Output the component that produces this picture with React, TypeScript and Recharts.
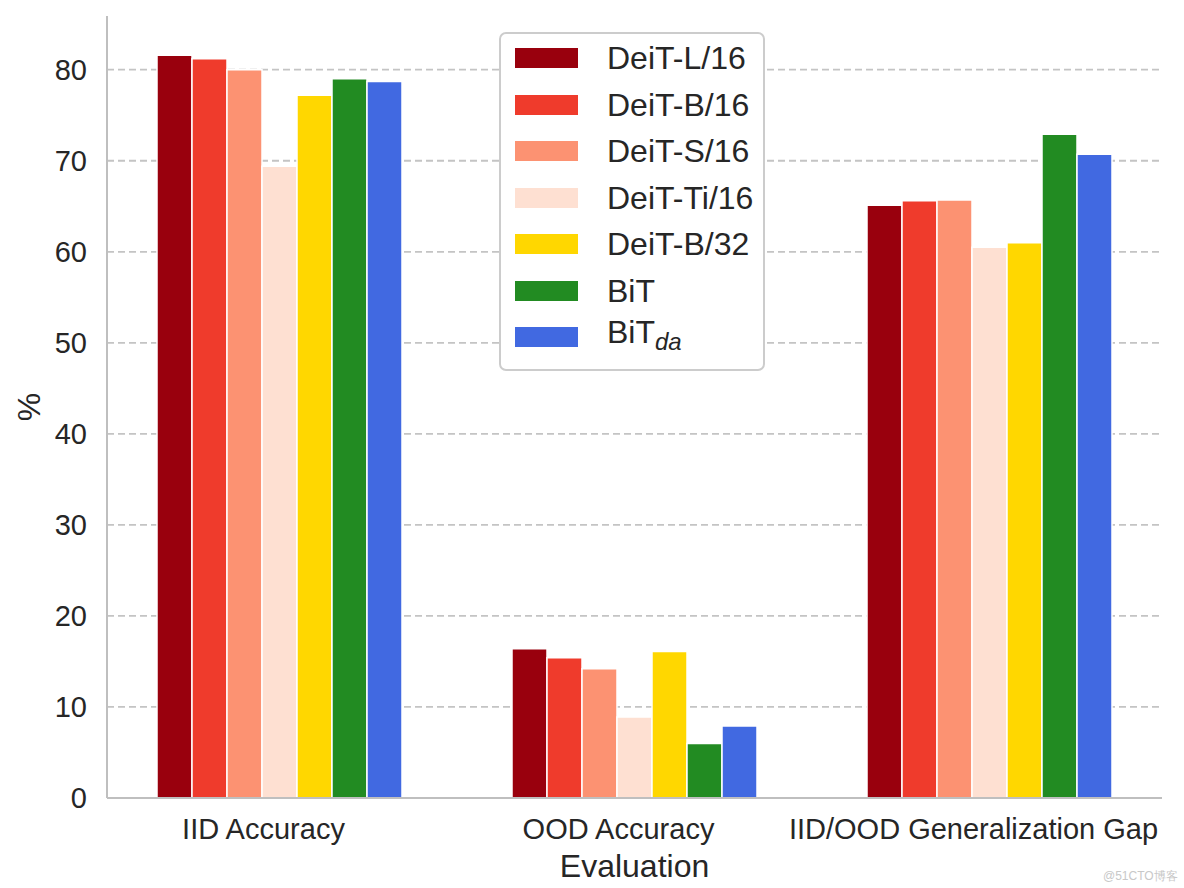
import { BarChart, Bar, XAxis, YAxis, CartesianGrid, Legend, Label } from 'recharts';

const categories = ['IID Accuracy', 'OOD Accuracy', 'IID/OOD Generalization Gap'];

const deitL16 = [81.6, 16.4, 65.1];
const deitB16 = [81.2, 15.4, 65.6];
const deitS16 = [80.0, 14.2, 65.7];
const deitTi16 = [69.4, 8.9, 60.5];
const deitB32 = [77.2, 16.1, 61.0];
const bit = [79.0, 6.0, 72.9];
const bitDa = [78.7, 7.9, 70.7];

const yTicks = [0, 10, 20, 30, 40, 50, 60, 70, 80];
const gridValues = [10, 20, 30, 40, 50, 60, 70, 80];

const series = [
    { key: 'deitL16', name: 'DeiT-L/16', values: deitL16, color: '#99000d' },
    { key: 'deitB16', name: 'DeiT-B/16', values: deitB16, color: '#ef3b2c' },
    { key: 'deitS16', name: 'DeiT-S/16', values: deitS16, color: '#fc9272' },
    { key: 'deitTi16', name: 'DeiT-Ti/16', values: deitTi16, color: '#fee0d2' },
    { key: 'deitB32', name: 'DeiT-B/32', values: deitB32, color: '#ffd700' },
    { key: 'bit', name: 'BiT', values: bit, color: '#228b22' },
    { key: 'bitDa', name: 'BiT', sub: 'da', values: bitDa, color: '#4169e1' },
];

const data = categories.map((name, i) => {
    const row: Record<string, string | number> = { name };
    series.forEach((s) => {
        row[s.key] = s.values[i];
    });
    return row;
});

const FONT = '"Liberation Sans", Arial, sans-serif';
const TEXT = '#262626';
const AXIS = '#bfbfbf';

const XTick = (props: any) => {
    const { x, y, payload } = props;
    return (
        <text x={x - 16} y={y + 33} textAnchor="middle" fontSize={29} fill={TEXT} fontFamily={FONT}>
            {payload.value}
        </text>
    );
};

const LegendBox = () => (
    <div
        style={{
            boxSizing: 'border-box',
            width: 266,
            height: 339,
            border: '2px solid #cccccc',
            borderRadius: 7,
            background: '#fff',
            padding: '1px 0 0 14px',
            fontFamily: FONT,
            color: TEXT,
        }}
    >
        {series.map((s) => (
            <div key={s.key} style={{ display: 'flex', alignItems: 'center', height: 46.5 }}>
                <div style={{ width: 63, height: 20, background: s.color }} />
                <span style={{ marginLeft: 29, fontSize: 32, lineHeight: '34px', whiteSpace: 'nowrap' }}>
                    {s.name}
                    {s.sub && <sub style={{ fontStyle: 'italic', fontSize: 24, verticalAlign: '-7px' }}>{s.sub}</sub>}
                </span>
            </div>
        ))}
    </div>
);

export default function App() {
    return (
        <div style={{ position: 'absolute', left: 0, top: 0, width: 1184, height: 888, background: '#fff' }}>
            <BarChart
                width={1184}
                height={888}
                data={data}
                margin={{ top: 16, right: 22, bottom: 0, left: 0 }}
                barGap={0}
                barSize={35}
            >
                <CartesianGrid
                    vertical={false}
                    horizontalValues={gridValues}
                    stroke="#c4c4c4"
                    strokeDasharray="7 4"
                    strokeWidth={1.8}
                />
                <XAxis
                    dataKey="name"
                    height={90}
                    padding={{ left: -5, right: -5 }}
                    tickLine={false}
                    axisLine={{ stroke: AXIS, strokeWidth: 2 }}
                    tick={<XTick />}
                    interval={0}
                >
                    <Label
                        content={(p: any) => (
                            <text
                                x={p.viewBox.x + p.viewBox.width / 2}
                                y={p.viewBox.y + 79}
                                textAnchor="middle"
                                fontSize={32}
                                fill={TEXT}
                                fontFamily={FONT}
                            >
                                Evaluation
                            </text>
                        )}
                    />
                </XAxis>
                <YAxis
                    width={107}
                    domain={[0, 85.9]}
                    ticks={yTicks}
                    tickLine={false}
                    tickMargin={14}
                    axisLine={{ stroke: AXIS, strokeWidth: 2 }}
                    tick={{ fontSize: 29, fill: TEXT, fontFamily: FONT }}
                >
                    <Label
                        content={(p: any) => {
                            const cy = p.viewBox.y + p.viewBox.height / 2;
                            return (
                                <text
                                    x={29}
                                    y={cy}
                                    transform={`rotate(-90 29 ${cy})`}
                                    textAnchor="middle"
                                    dominantBaseline="central"
                                    fontSize={32}
                                    fill={TEXT}
                                    fontFamily={FONT}
                                >
                                    %
                                </text>
                            );
                        }}
                    />
                </YAxis>
                <Legend
                    layout="vertical"
                    align="center"
                    verticalAlign="middle"
                    content={<LegendBox />}
                    wrapperStyle={{ left: 499, top: 32, width: 266, height: 339 }}
                />
                {series.map((s) => (
                    <Bar
                        key={s.key}
                        dataKey={s.key}
                        name={s.name}
                        fill={s.color}
                        stroke="#ffffff"
                        strokeWidth={1.5}
                        isAnimationActive={false}
                    />
                ))}
            </BarChart>
            <div
                style={{
                    position: 'absolute',
                    left: 1103,
                    top: 868,
                    fontSize: 12,
                    color: '#c8c8c8',
                    fontFamily: FONT,
                    whiteSpace: 'nowrap',
                }}
            >
                @51CTO博客
            </div>
        </div>
    );
}
